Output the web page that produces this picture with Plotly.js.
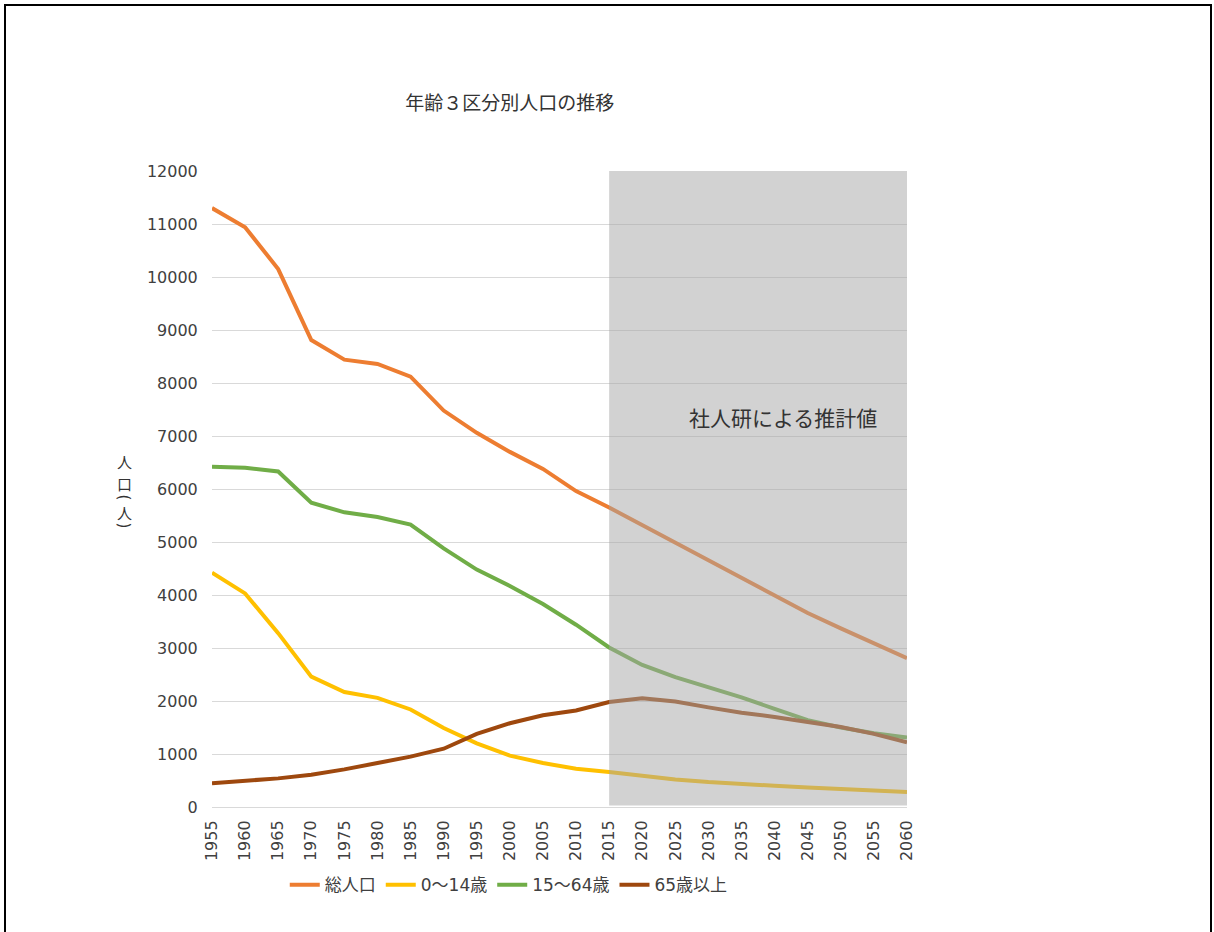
<!DOCTYPE html>
<html><head><meta charset="utf-8">
<script src="https://cdn.plot.ly/plotly-3.0.1.min.js"></script>
<style>
html,body{margin:0;padding:0;background:#fff;}
#chart{width:1214px;height:932px;}
#frame{position:absolute;left:4px;top:4px;width:1204px;height:940px;border:2px solid #000;pointer-events:none;}
</style></head>
<body>
<div id="chart"></div>
<div id="frame"></div>
<script>
const years = [1955,1960,1965,1970,1975,1980,1985,1990,1995,2000,2005,2010,2015,2020,2025,2030,2035,2040,2045,2050,2055,2060];
const total = [11300,10940,10150,8810,8440,8360,8120,7480,7060,6700,6380,5960,5650,5320,4980,4640,4310,3980,3660,3370,3090,2810];
const age0_14 = [4420,4030,3280,2460,2170,2060,1840,1490,1200,970,830,720,660,590,520,470,430,400,370,340,310,285];
const age15_64 = [6420,6400,6330,5740,5560,5470,5330,4880,4480,4170,3830,3440,3010,2680,2450,2260,2070,1850,1640,1500,1390,1310];
const age65 = [450,490,540,610,710,830,950,1100,1380,1580,1730,1820,1980,2050,1990,1880,1780,1700,1610,1510,1380,1220];
const names = ['総人口','0～14歳','15～64歳','65歳以上'];
const colors = ['#ED7D31','#FFC000','#70AD47','#9E480E'];
const series = [total, age0_14, age15_64, age65];
const estimateStart = 2015, estimateEnd = 2060;
const yTitleChars = ['人','口','(','人',')'];

const font = '"DejaVu Sans", "Noto Sans CJK JP", sans-serif';
const cjk = '"Noto Sans CJK JP", sans-serif';
const traces = series.map((s,i)=>({
  x: years, y: s, type:'scatter', mode:'lines', name: names[i],
  line:{color:colors[i], width:4}
}));

const yTitlePos = [462, 484, 498, 512, 526];
const yTitleAnn = yTitleChars.map((c,i)=>{
  const paren = (c==='(' || c===')');
  return {
    text:c, xref:'paper', yref:'paper', x:-0.126, xanchor:'center',
    y:(807-yTitlePos[i])/636, yanchor:'middle', showarrow:false, borderpad:0,
    textangle: paren ? 90 : 0,
    font:{size:15, color:'#333', family: paren ? font : cjk}
  };
});

const layout = {
  width:1214, height:932,
  margin:{l:212, r:307, t:171, b:125},
  paper_bgcolor:'#fff', plot_bgcolor:'#fff',
  font:{family:font, color:'#404040'},
  title:{text:'年齢３区分別人口の推移', x:0.42, xanchor:'center', y:0.889, yanchor:'middle', font:{size:19, color:'#333', family:cjk}},
  showlegend:true,
  legend:{orientation:'h', x:0.427, xanchor:'center', y:-0.123, yanchor:'middle', font:{size:17, color:'#404040', family:font}, itemwidth:30, tracegroupgap:0},
  xaxis:{range:[1955,2060], tickmode:'linear', tick0:1955, dtick:5, tickangle:-90, showgrid:false, zeroline:false,
    showline:false, ticks:'outside', ticklen:6, tickcolor:'rgba(0,0,0,0)', tickfont:{size:16, color:'#404040', family:font}},
  yaxis:{range:[0,12000], tickmode:'linear', tick0:0, dtick:1000, tickformat:'d', showgrid:true, gridcolor:'#d9d9d9', gridwidth:1,
    zeroline:true, zerolinecolor:'#d9d9d9', zerolinewidth:1, ticks:'outside', ticklen:10, tickcolor:'rgba(0,0,0,0)', tickfont:{size:16, color:'#404040', family:font}},
  shapes:[{type:'rect', xref:'x', yref:'y', x0:estimateStart, x1:estimateEnd, y0:30, y1:12000,
    fillcolor:'rgba(165,165,165,0.5)', line:{width:0}, layer:'above'}],
  annotations:[
    {text:'社人研による推計値', xref:'x', yref:'y', x:2041.3, y:7350, showarrow:false, xanchor:'center', yanchor:'middle',
     font:{size:21, color:'#333', family:cjk}}
  ].concat(yTitleAnn)
};
Plotly.newPlot('chart', traces, layout, {displayModeBar:false, staticPlot:true});
</script>
</body></html>
